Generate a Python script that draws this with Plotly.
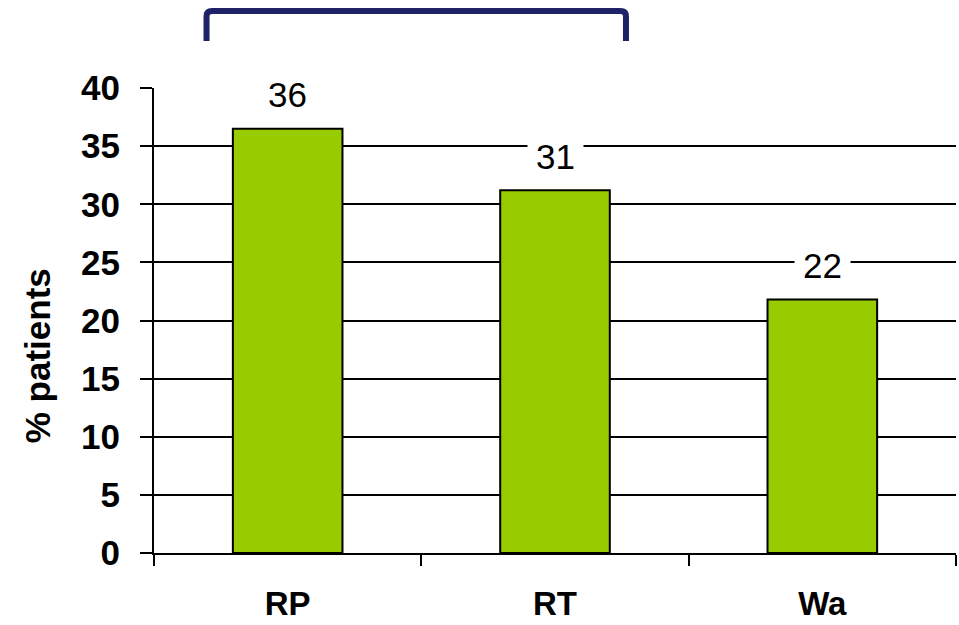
import plotly.graph_objects as go

# Share of patients per treatment group
categories = ["RP", "RT", "Wa"]
values = [36.5, 31.2, 21.8]
y_ticks = [0, 5, 10, 15, 20, 25, 30, 35, 40]

BAR_GREEN = "#99cc00"
NAVY = "#1f2266"
FONT = "Liberation Sans, Arial, sans-serif"

fig = go.Figure()
fig.add_trace(go.Bar(
    x=categories,
    y=values,
    width=0.41,
    marker=dict(color=BAR_GREEN, line=dict(color="black", width=2)),
    hoverinfo="skip",
))

# Rounded value labels above each bar, on a white box so the grid is masked
for cat, val in zip(categories, values):
    fig.add_annotation(
        x=cat, y=val, xref="x", yref="y",
        text=f"{val:.0f}",
        showarrow=False,
        yanchor="middle", yshift=34,
        font=dict(family=FONT, size=35, color="black"),
        bgcolor="white", borderpad=8,
    )

# Y-axis title, set a little below the vertical centre of the plot
fig.add_annotation(
    text="% patients",
    xref="paper", yref="paper",
    x=-0.146, y=0.425,
    xanchor="center", yanchor="middle",
    textangle=-90, showarrow=False,
    font=dict(family=FONT, size=35, color="black", weight="bold"),
)

# Bracket above the first two groups
fig.add_shape(
    type="path",
    xref="paper", yref="paper",
    path="M 0.0655,1.101 L 0.0655,1.154 Q 0.0655,1.1656 0.0725,1.1656 "
         "L 0.5815,1.1656 Q 0.5885,1.1656 0.5885,1.154 L 0.5885,1.101",
    line=dict(color=NAVY, width=6),
)

fig.update_layout(
    width=959, height=625,
    margin=dict(l=154, r=3, t=88, b=72),
    paper_bgcolor="white",
    plot_bgcolor="white",
    showlegend=False,
    bargap=0.59,
    font=dict(family=FONT, color="black"),
)
fig.update_xaxes(
    type="category",
    showline=True, linecolor="black", linewidth=2,
    ticks="outside", ticklen=11, tickwidth=2, tickcolor="black",
    tickson="boundaries",
    showgrid=False,
    tickfont=dict(family=FONT, size=33, color="black", weight="bold"),
    ticklabelstandoff=20,
)
fig.update_yaxes(
    range=[0, 40],
    tickvals=y_ticks,
    showline=True, linecolor="black", linewidth=2,
    ticks="outside", ticklen=12, tickwidth=2, tickcolor="black",
    showgrid=True, gridcolor="black", gridwidth=2,
    zeroline=False,
    tickfont=dict(family=FONT, size=35, color="black", weight="bold"),
    ticklabelstandoff=13,
)

fig.write_html("out.html")
